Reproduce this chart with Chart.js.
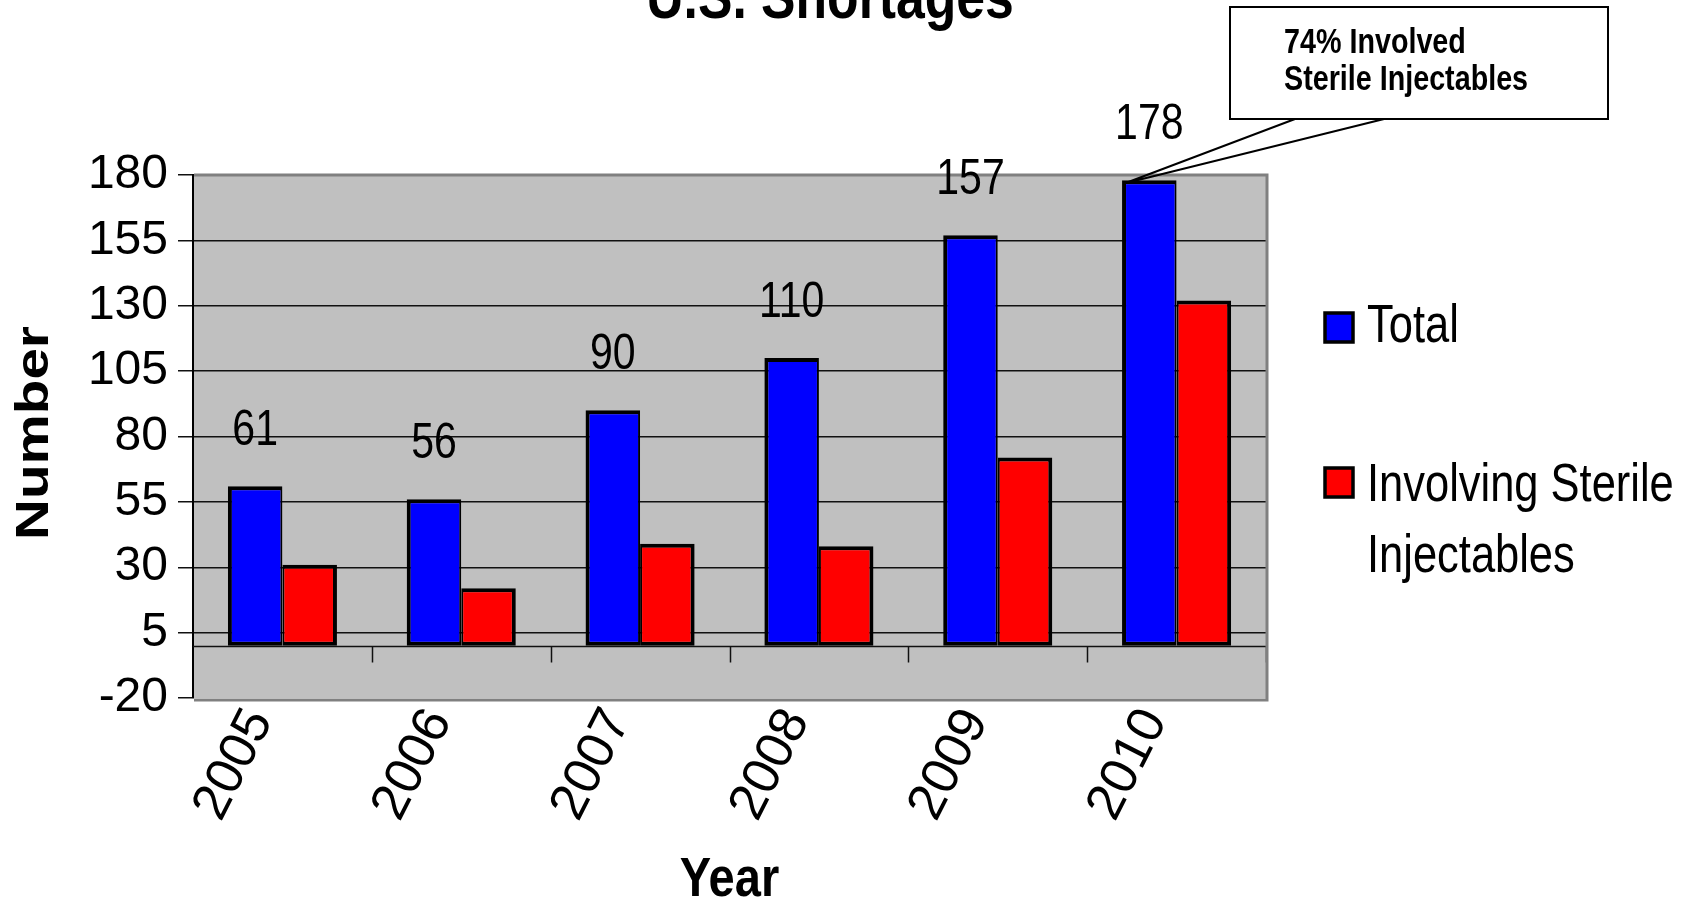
<!DOCTYPE html>
<html>
<head>
<meta charset="utf-8">
<title>U.S. Shortages</title>
<script src="https://cdn.jsdelivr.net/npm/chart.js@4.4.1/dist/chart.umd.min.js"></script>
<style>
  html, body { margin: 0; padding: 0; background: #fff; overflow: hidden; }
  #wrap { width: 1697px; height: 899px; position: relative; }
</style>
</head>
<body>
<div id="wrap"><canvas id="c" width="1697" height="899"></canvas></div>
<script>
// Drug shortages per year: total vs. those involving sterile injectables
const years = ['2005', '2006', '2007', '2008', '2009', '2010'];
const totalShortages = [61, 56, 90, 110, 157, 178];
const sterileInjectables = [31, 22, 39, 38, 72, 132];
const yTickValues = [-20, 5, 30, 55, 80, 105, 130, 155, 180];

const chartTitle = 'U.S. Shortages';
const seriesNames = ['Total', 'Involving Sterile Injectables'];
const legendLines = [['Total'], ['Involving Sterile', 'Injectables']];
const calloutLines = ['74% Involved', 'Sterile Injectables'];
const xAxisTitle = 'Year';
const yAxisTitle = 'Number';

const SANS = '"Liberation Sans", Arial, Helvetica, sans-serif';
const BLUE = '#0000ff';
const RED = '#ff0000';
const PLOT_BG = '#c0c0c0';

// text squeezed horizontally (tall, narrow lettering)
function squeezedText(ctx, text, x, y, font, sx, align, angle) {
  ctx.save();
  ctx.font = font;
  ctx.translate(x, y);
  if (angle) ctx.rotate(angle);
  ctx.scale(sx, 1);
  ctx.textAlign = align;
  ctx.fillText(text, 0, 0);
  ctx.restore();
}

const decor = {
  id: 'decor',
  beforeDraw(chart) {
    const { ctx, chartArea: a } = chart;
    ctx.save();
    ctx.fillStyle = '#ffffff';
    ctx.fillRect(0, 0, chart.width, chart.height);
    ctx.fillStyle = PLOT_BG;
    ctx.fillRect(a.left, a.top, a.right - a.left, a.bottom - a.top);
    ctx.restore();
  },
  beforeDatasetsDraw(chart) {
    // zero line with category separators hanging below it
    const { ctx, chartArea: a, scales: { x, y } } = chart;
    const y0 = Math.round(y.getPixelForValue(0)) + 0.5;
    ctx.save();
    ctx.strokeStyle = '#111';
    ctx.lineWidth = 1.5;
    ctx.beginPath();
    ctx.moveTo(a.left, y0);
    ctx.lineTo(a.right, y0);
    for (let i = 1; i <= years.length; i++) {
      const px = Math.round(x.getPixelForValue(i - 0.5)) + 0.5;
      ctx.moveTo(px, y0);
      ctx.lineTo(px, y0 + 16);
    }
    ctx.stroke();
    ctx.restore();
  },
  afterDatasetsDraw(chart) {
    const { ctx, chartArea: a } = chart;
    ctx.save();
    // plot frame: grey top, right and bottom edges
    ctx.strokeStyle = '#808080';
    ctx.lineWidth = 3;
    ctx.beginPath();
    ctx.moveTo(a.left + 1, a.top);
    ctx.lineTo(a.right + 1, a.top);
    ctx.lineTo(a.right + 1, a.bottom + 2);
    ctx.lineTo(a.left + 1, a.bottom + 2);
    ctx.stroke();

    ctx.fillStyle = '#000';
    ctx.textBaseline = 'alphabetic';

    // value labels above the Total bars
    const meta = chart.getDatasetMeta(0);
    meta.data.forEach((bar, i) => {
      squeezedText(ctx, String(totalShortages[i]), bar.x, bar.y - 41, '50px ' + SANS, 0.82, 'center');
    });

    // callout pointing at the last Total bar
    const last = meta.data[meta.data.length - 1];
    const tipX = last.x - last.width / 2 + 3;
    const tipY = last.y + 3;
    const box = { l: 1230, t: 7, r: 1608, b: 119 };
    ctx.strokeStyle = '#000';
    ctx.lineWidth = 2;
    ctx.beginPath();
    ctx.moveTo(1295, box.b);
    ctx.lineTo(tipX, tipY);
    ctx.lineTo(1384, box.b);
    ctx.stroke();
    ctx.fillStyle = '#fff';
    ctx.fillRect(box.l, box.t, box.r - box.l, box.b - box.t);
    ctx.strokeRect(box.l, box.t, box.r - box.l, box.b - box.t);
    ctx.fillStyle = '#000';
    squeezedText(ctx, calloutLines[0], 1284, 53, 'bold 35px ' + SANS, 0.82, 'left');
    squeezedText(ctx, calloutLines[1], 1284, 90, 'bold 35px ' + SANS, 0.82, 'left');

    // legend
    const boxes = [
      { color: BLUE, top: 313 },
      { color: RED, top: 468 }
    ];
    const baselines = [[342], [501, 572]];
    boxes.forEach((b, i) => {
      ctx.fillStyle = b.color;
      ctx.fillRect(1325, b.top, 28, 29);
      ctx.lineWidth = 3.5;
      ctx.strokeStyle = '#000';
      ctx.strokeRect(1325, b.top, 28, 29);
      ctx.fillStyle = '#000';
      legendLines[i].forEach((line, j) =>
        squeezedText(ctx, line, 1367, baselines[i][j], '53px ' + SANS, 0.82, 'left'));
    });

    // axis titles
    squeezedText(ctx, xAxisTitle, (a.left + a.right) / 2, 896, 'bold 56px ' + SANS, 0.84, 'center');
    ctx.textBaseline = 'middle';
    squeezedText(ctx, yAxisTitle, 35, 433, 'bold 46px ' + SANS, 1.23, 'center', -Math.PI / 2);
    ctx.textBaseline = 'alphabetic';

    // chart title, running off the top edge
    squeezedText(ctx, chartTitle, 830, 18, 'bold 63px ' + SANS, 0.82, 'center');
    ctx.restore();
  }
};

new Chart(document.getElementById('c'), {
  type: 'bar',
  data: {
    labels: years,
    datasets: [
      {
        label: seriesNames[0],
        data: totalShortages,
        backgroundColor: BLUE,
        borderColor: '#000',
        borderWidth: { top: 4, left: 4, right: 2, bottom: 4 },
        borderSkipped: false,
        categoryPercentage: 0.61,
        barPercentage: 1.0
      },
      {
        label: seriesNames[1],
        data: sterileInjectables,
        backgroundColor: RED,
        borderColor: '#000',
        borderWidth: { top: 4, left: 2, right: 4, bottom: 4 },
        borderSkipped: false,
        categoryPercentage: 0.61,
        barPercentage: 1.0
      }
    ]
  },
  options: {
    responsive: false,
    animation: false,
    devicePixelRatio: 1,
    layout: { padding: { top: 175, right: 431, bottom: 0, left: 0 } },
    plugins: {
      legend: { display: false },
      tooltip: { enabled: false },
      title: { display: false }
    },
    scales: {
      x: {
        afterFit(s) { s.height = 201; },
        grid: { display: false, drawTicks: false },
        border: { display: false },
        ticks: {
          color: '#000',
          font: { family: SANS, size: 52 },
          minRotation: 63,
          maxRotation: 63,
          padding: 1,
          labelOffset: -22,
          autoSkip: false
        }
      },
      y: {
        min: -20,
        max: 180,
        afterBuildTicks(s) { s.ticks = yTickValues.map(v => ({ value: v })); },
        afterFit(s) { s.width = 193; },
        border: { display: true, color: '#000', width: 2 },
        grid: {
          color: c => (c.tick && (c.tick.value === -20 || c.tick.value === 180)) ? 'rgba(0,0,0,0)' : '#111',
          lineWidth: 1.5,
          tickLength: 15,
          tickColor: '#111',
          drawTicks: true
        },
        ticks: {
          color: '#000',
          font: { family: SANS, size: 48 },
          padding: 10
        }
      }
    }
  },
  plugins: [decor]
});
</script>
</body>
</html>
